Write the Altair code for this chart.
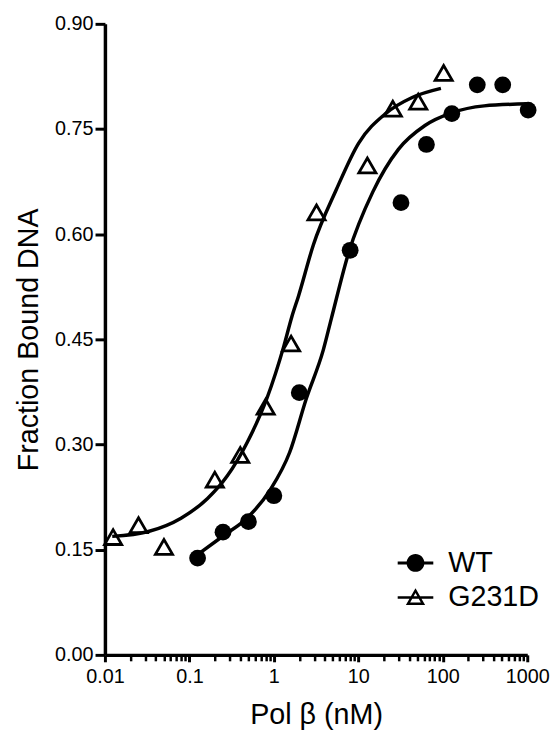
import altair as alt
import pandas as pd

# ---- data ----
series_names = ["WT", "G231D"]

wt_conc = [0.125, 0.25, 0.5, 1, 2, 8, 32, 64, 128, 256, 512, 1024]
wt_frac = [0.138, 0.175, 0.19, 0.227, 0.374, 0.577, 0.645, 0.728, 0.772, 0.813, 0.813, 0.777]

g_conc = [0.0125, 0.025, 0.05, 0.2, 0.4, 0.8, 1.6, 3.2, 12.8, 25.6, 51.2, 102.4]
g_frac = [0.168, 0.185, 0.154, 0.25, 0.285, 0.354, 0.444, 0.631, 0.698, 0.779, 0.789, 0.83]

# fitted curves
wt_fit_conc = [0.125, 0.26, 0.48, 0.9, 1.54, 2.43, 3.85, 4.8, 7.7, 14.8, 29.8, 61.5, 127, 309, 1024]
wt_fit_frac = [0.143, 0.171, 0.195, 0.235, 0.289, 0.366, 0.435, 0.48, 0.574, 0.66, 0.721, 0.755, 0.773, 0.783, 0.786]

g_fit_conc = [0.0122, 0.0327, 0.0796, 0.164, 0.28, 0.483, 0.828, 1.31, 1.63, 1.96, 2.94, 5.46, 10.1, 21, 43.4, 95]
g_fit_frac = [0.169, 0.176, 0.195, 0.223, 0.255, 0.303, 0.366, 0.44, 0.482, 0.512, 0.585, 0.663, 0.73, 0.772, 0.795, 0.808]

x_major = [0.01, 0.1, 1, 10, 100, 1000]
x_minor = [0.02, 0.03, 0.04, 0.05, 0.06, 0.07, 0.08, 0.09,
           0.2, 0.3, 0.4, 0.5, 0.6, 0.7, 0.8, 0.9,
           2, 3, 4, 5, 6, 7, 8, 9,
           20, 30, 40, 50, 60, 70, 80, 90,
           200, 300, 400, 500, 600, 700, 800, 900]
y_ticks = [0, 0.15, 0.30, 0.45, 0.60, 0.75, 0.90]

# ---- tables ----
pts = pd.concat([
    pd.DataFrame({"conc": wt_conc, "frac": wt_frac, "series": "WT"}),
    pd.DataFrame({"conc": g_conc, "frac": g_frac, "series": "G231D"}),
], ignore_index=True)
fits = pd.concat([
    pd.DataFrame({"conc": wt_fit_conc, "frac": wt_fit_frac, "series": "WT"}),
    pd.DataFrame({"conc": g_fit_conc, "frac": g_fit_frac, "series": "G231D"}),
], ignore_index=True)

FONT = "Liberation Sans"
xscale = alt.Scale(type="log", domain=[0.01, 1000], nice=False)
yscale = alt.Scale(domain=[0, 0.9], nice=False)

major_axis = alt.Axis(values=x_major, format="~g", title="Pol β (nM)", orient="bottom",
                      tickSize=7, tickWidth=3, domainWidth=3.5, labelFontSize=20,
                      titleFontSize=29, labelPadding=5, titlePadding=14, grid=False,
                      labelFlush=False, labelOverlap=False)
minor_axis = alt.Axis(values=x_minor, labels=False, domain=False, title=None,
                      orient="bottom", tickSize=6, tickWidth=2.5, grid=False)
y_axis = alt.Axis(values=y_ticks, format=".2f", title="Fraction Bound DNA",
                  tickSize=10, tickWidth=3, domainWidth=3.5, labelFontSize=20,
                  titleFontSize=29, labelPadding=2, titlePadding=11, grid=False)

curves = alt.Chart(fits).mark_line(color="black", strokeWidth=3.5, interpolate="monotone").encode(
    x=alt.X("conc:Q", scale=xscale, axis=major_axis),
    y=alt.Y("frac:Q", scale=yscale, axis=y_axis),
    detail="series:N",
)

wt_pts = alt.Chart(pts).transform_filter(alt.datum.series == "WT").mark_point(
    shape="circle", filled=True, color="black", size=289, opacity=1
).encode(
    x=alt.X("conc:Q", scale=xscale, axis=None),
    y=alt.Y("frac:Q", scale=yscale),
)

g_pts = alt.Chart(pts).transform_filter(alt.datum.series == "G231D").mark_point(
    shape="triangle-up", filled=False, color="black", size=300, strokeWidth=2.8, opacity=1
).encode(
    x=alt.X("conc:Q", scale=xscale, axis=None),
    y=alt.Y("frac:Q", scale=yscale),
)

# legend glyphs as filled outlines: a bar through a disc / through a triangle ring
wt_symbol = ("M-1,-0.085L1,-0.085L1,0.085L-1,0.085Z"
             "M0.5,0A0.5,0.5,0,1,1,-0.5,0A0.5,0.5,0,1,1,0.5,0Z")
g_symbol = ("M-1,-0.075L1,-0.075L1,0.075L-1,0.075Z"
            "M0,-0.52L0.54,0.42L-0.54,0.42Z"
            "M0,-0.25L-0.3,0.28L0.3,0.28Z")

legend = alt.Legend(orient="none", legendX=296, legendY=527, title=None,
                    symbolSize=1296, symbolStrokeWidth=0, symbolFillColor="black",
                    symbolOpacity=1,
                    labelFontSize=29, labelFont=FONT, labelColor="black",
                    labelOffset=15, rowPadding=2, padding=0)

# legend-only layer: no marks drawn (filtered out), the shape scale carries the entries
legend_layer = alt.Chart(pts).transform_filter("false").mark_point(
    filled=True, color="black", opacity=1
).encode(
    x=alt.X("conc:Q", scale=xscale, axis=minor_axis),
    y=alt.Y("frac:Q", scale=yscale),
    shape=alt.Shape("series:N", scale=alt.Scale(domain=series_names, range=[wt_symbol, g_symbol]),
                    legend=legend),
)

chart = alt.layer(curves, wt_pts, g_pts, legend_layer).resolve_axis(x="independent").properties(
    width=427, height=638,
    padding={"left": 98, "top": 12, "right": 24, "bottom": 78},
    autosize=alt.AutoSizeParams(type="none"),
).configure_axis(
    labelFont=FONT, titleFont=FONT, labelColor="black", titleColor="black",
    domainColor="black", tickColor="black", titleFontWeight="normal",
).configure_view(stroke="transparent")

chart.save("out.html", embed_options={"renderer": "svg", "actions": False})
